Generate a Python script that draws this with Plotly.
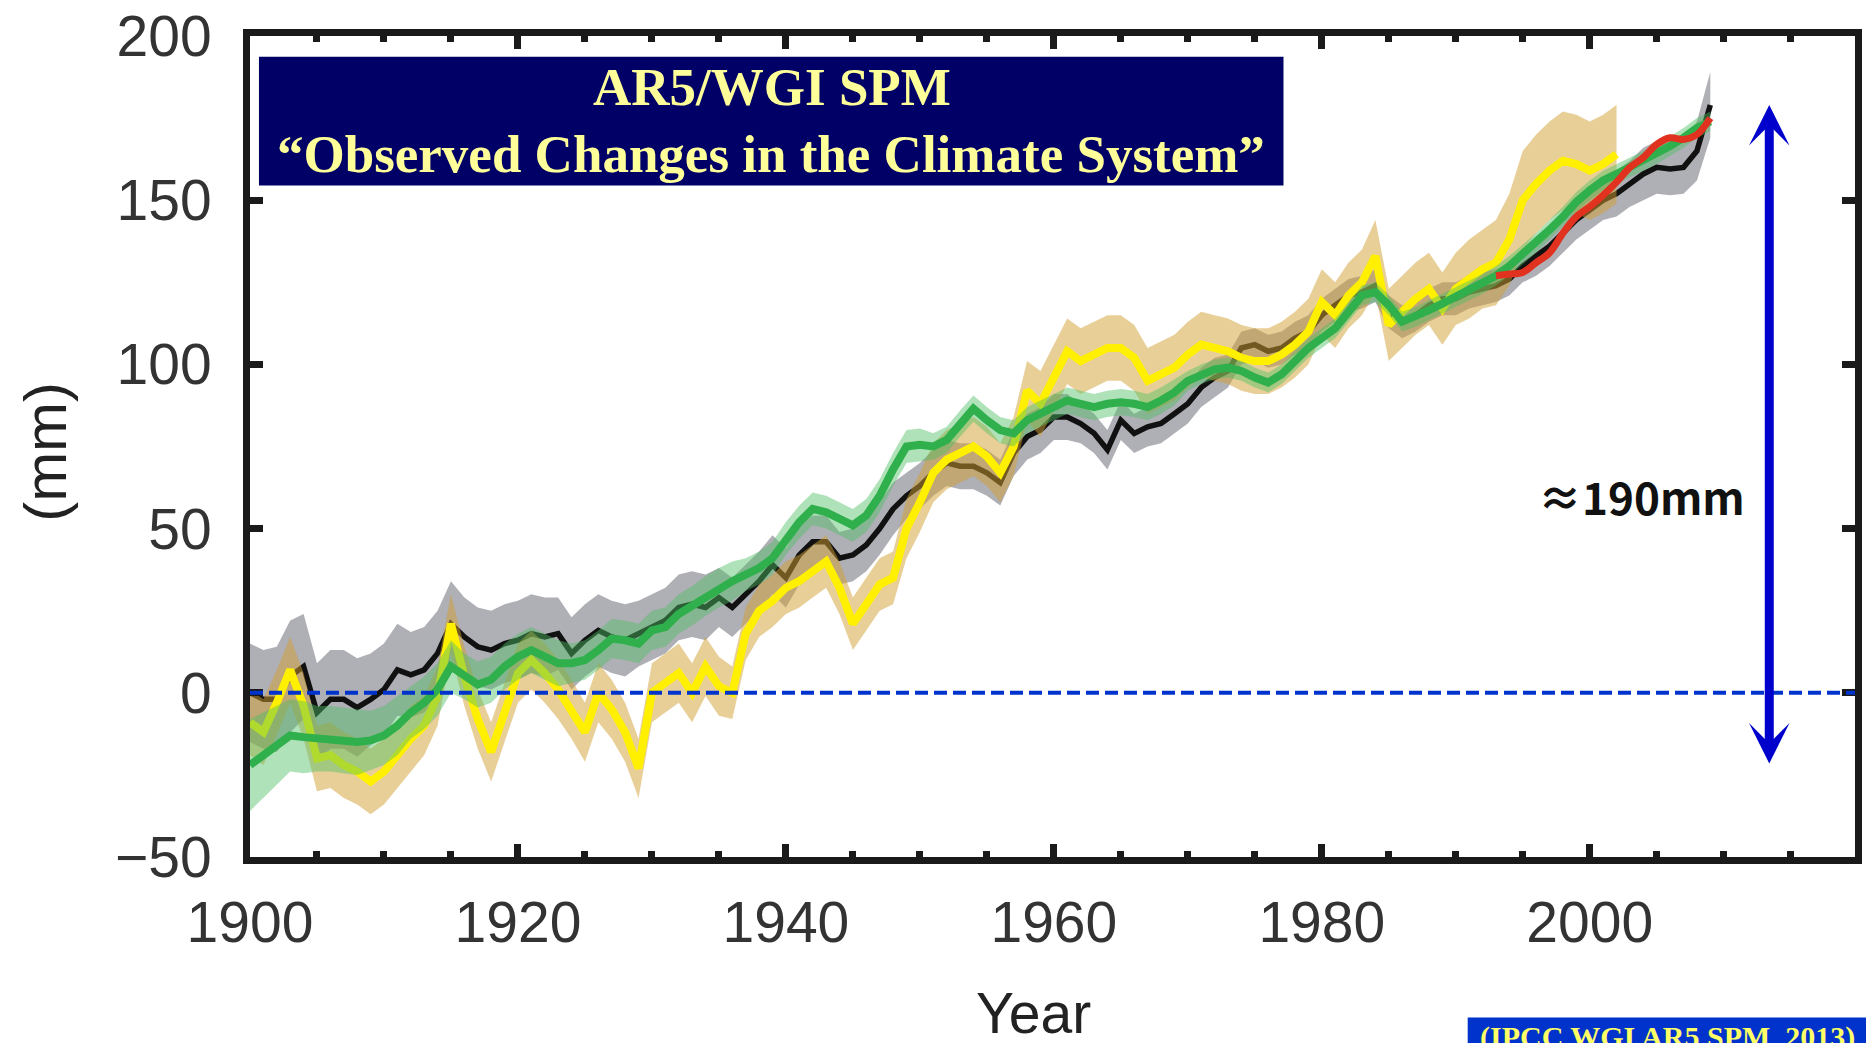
import plotly.graph_objects as go

# ---- Global mean sea level change relative to 1900 (mm) ----
years_black = list(range(1900, 2010))
sea_black = [
    0, -2, -2, 5, 8, -6, -2, -2, -4.5, -2,
    1, 7, 5.5, 7, 12, 21, 17, 14, 13, 15,
    16, 18, 17, 18, 12, 16, 19, 17, 16, 18,
    20, 22, 26, 27, 26, 29, 26, 30, 34, 39,
    35, 42, 46, 46, 41, 42, 45, 50, 56, 60,
    63, 67, 70, 69, 69, 67, 64, 73, 78, 80,
    84, 84, 82, 79, 74, 83, 79, 81, 82, 85,
    88, 93, 96, 98, 105, 106, 104, 105, 108, 110,
    115, 118, 121, 122, 124, 116, 113, 115, 118, 120,
    120, 122, 123, 124, 126, 130, 133, 136, 140, 144,
    147, 150, 152, 155, 158, 160, 159.5, 160, 165, 179,
]
err_black = [
    15, 15, 16, 17, 16, 15, 15, 15, 15, 14,
    14, 14, 13, 13, 13, 13, 12, 12, 12, 12,
    12, 12, 12, 11, 11, 11, 11, 11, 11, 10,
    10, 10, 10, 10, 10, 9, 9, 9, 9, 9,
    9, 9, 8, 8, 8, 8, 8, 8, 8, 7,
    7, 7, 7, 7, 7, 7, 7, 7, 7, 7,
    7, 7, 6, 6, 6, 6, 6, 6, 6, 6,
    6, 6, 6, 5, 5, 5, 5, 5, 5, 5,
    5, 5, 5, 5, 5, 5, 5, 5, 5, 5,
    5, 5, 5, 5, 5, 5, 6, 6, 6, 6,
    6, 6, 7, 7, 8, 8, 8, 8, 9, 10,
]

years_yellow = list(range(1900, 2003))
sea_yellow = [
    -9, -12, -3, 7, -4, -20, -19, -22, -24, -27,
    -24, -19, -14, -10, -1, 21, 5, -8, -18, -6,
    6, 10, 6, 1, -5, -12, 0, -5, -12, -23,
    0, 3, 6, 0, 8, 2, 0, 18, 25, 28,
    32, 34, 37, 40, 32, 21, 27, 33, 35, 50,
    58, 67, 71, 73, 75, 72, 67, 75, 92, 88,
    96, 104, 101, 103, 105, 105, 102, 95, 97, 99,
    103, 106, 105, 104, 102, 101, 101, 103, 106, 110,
    119, 115, 121, 125, 133, 112, 116, 120, 123, 117,
    123, 126, 129, 131, 138, 150, 155, 159, 162, 161,
    159, 161, 164,
]
err_yellow = [
    10, 10, 10, 10, 10, 10, 10, 10, 10, 10,
    10, 10, 10, 9, 9, 9, 9, 9, 9, 9,
    9, 9, 9, 9, 9, 9, 9, 9, 9, 9,
    9, 9, 9, 9, 9, 9, 8, 8, 8, 8,
    8, 8, 8, 8, 8, 8, 8, 8, 8, 9,
    9, 9, 9, 9, 9, 9, 9, 9, 9, 10,
    10, 10, 10, 10, 10, 10, 10, 10, 10, 10,
    10, 10, 10, 10, 10, 10, 10, 10, 10, 10,
    10, 10, 10, 10, 11, 11, 11, 11, 11, 11,
    11, 12, 12, 13, 14, 15, 15, 15, 15, 15,
    15, 15, 15,
]

years_green = list(range(1900, 2010))
sea_green = [
    -22, -19, -16, -13, -13.5, -14, -14, -14.5, -15, -14.5,
    -13, -10, -6, -3, 1, 8, 5, 2.5, 4, 8,
    11, 13, 11, 9, 9, 10, 13, 16.5, 16, 15,
    19, 20, 24, 26.5, 29.5, 32, 34, 36, 38, 41,
    47, 52, 56, 55, 53, 51, 54, 60, 68, 75,
    75.5, 75, 77, 82, 86.5, 83, 80, 79, 83, 85,
    87, 89, 88, 87, 88, 88.5, 88, 87, 89, 91.5,
    95, 97, 98.5, 99, 98, 96, 94.5, 97, 101, 105,
    108, 111, 116, 121, 122, 118, 113, 114.5, 116.5, 118.5,
    120.5, 122.5, 124.5, 127, 130, 133.5, 137, 141, 145, 149.5,
    153, 156, 158, 160, 162, 164, 166.5, 169, 172, 174,
]
err_green = [
    14, 13, 12, 11, 11, 10, 10, 10, 10, 9,
    9, 9, 8, 8, 8, 8, 7, 7, 7, 7,
    7, 7, 7, 7, 6, 6, 6, 6, 6, 6,
    6, 6, 6, 6, 6, 6, 6, 5, 5, 5,
    5, 5, 5, 5, 5, 5, 5, 5, 5, 5,
    5, 4, 4, 4, 4, 4, 4, 4, 4, 4,
    4, 4, 4, 4, 4, 4, 4, 4, 4, 4,
    3, 3, 3, 3, 3, 3, 3, 3, 3, 3,
    3, 3, 3, 3, 3, 3, 3, 3, 3, 3,
    3, 3, 3, 3, 3, 3, 3, 3, 3, 3,
    3, 3, 3, 3, 3, 3, 3, 3, 3, 3,
]

years_red = list(range(1993, 2010))
sea_red = [127, 127.5, 128, 131, 134, 140, 145, 148, 151.5, 155.5,
           160, 163, 167, 169, 168.5, 170, 175]

x_ticks = [1900, 1920, 1940, 1960, 1980, 2000]
y_ticks = [-50, 0, 50, 100, 150, 200]
rise_year = 2013.4
rise_top, rise_bottom = 179, -22   # span marked by the double arrow
rise_label = "≈190mm"

# ---- page geometry (pixels) ----
W, H = 1866, 1043
L, R, T, B = 250, 1862, 28, 857


def px(xp):
    return (xp - L) / (R - L)


def py(yp):
    return (B - yp) / (B - T)


def band(xs, ys, es, fill):
    upper = [v + e for v, e in zip(ys, es)]
    lower = [v - e for v, e in zip(ys, es)]
    return go.Scatter(x=xs + xs[::-1], y=upper + lower[::-1], fill="toself",
                      fillcolor=fill, line=dict(width=0), mode="lines",
                      hoverinfo="skip", showlegend=False)


def curve(xs, ys, color, width, shape="linear"):
    return go.Scatter(x=xs, y=ys, mode="lines", showlegend=False,
                      line=dict(color=color, width=width, shape=shape))


def label(xp, yp, text, font, **kw):
    fig.add_annotation(xref="paper", yref="paper", x=px(xp), y=py(yp),
                       xanchor=kw.pop("xanchor", "center"),
                       yanchor=kw.pop("yanchor", "middle"),
                       text=text, showarrow=False, font=font, **kw)


fig = go.Figure()
fig.add_trace(band(years_black, sea_black, err_black, "rgba(110,110,122,0.55)"))
fig.add_trace(curve(years_black, sea_black, "#111111", 5.5))
fig.add_trace(band(years_yellow, sea_yellow, err_yellow, "rgba(210,160,50,0.5)"))
fig.add_trace(curve(years_yellow, sea_yellow, "#fff000", 8))
fig.add_trace(band(years_green, sea_green, err_green, "rgba(80,190,100,0.45)"))
fig.add_trace(curve(years_green, sea_green, "#30b04c", 8))
fig.add_trace(curve(years_red, sea_red, "#e0321e", 7, shape="spline"))

sans = "Liberation Sans, Arial, sans-serif"
serif = "Liberation Serif, Times New Roman, serif"
tick_font = dict(family=sans, size=57, color="#333333")
axis_common = dict(showline=True, linewidth=7, linecolor="#1a1a1a", mirror="ticks",
                   ticks="inside", tickwidth=7, tickcolor="#1a1a1a",
                   showgrid=False, zeroline=False, tickfont=tick_font,
                   ticklabeloverflow="allow")

fig.update_xaxes(range=[1900, 2019.8], tickmode="array", tickvals=x_ticks,
                 ticklen=13, ticklabelstandoff=10,
                 minor=dict(tickmode="linear", tick0=1900, dtick=5, ticks="inside",
                            ticklen=6, tickwidth=7, tickcolor="#1a1a1a"),
                 **axis_common)
fig.update_yaxes(range=[-50, 200], tickmode="array", tickvals=y_ticks,
                 ticklen=13, ticklabelstandoff=20, **axis_common)

# zero reference line
fig.add_shape(type="line", xref="paper", yref="y", x0=0, x1=1, y0=0, y1=0,
              line=dict(color="#0033cc", width=4, dash="13px,6px"), layer="above")

# title panel
fig.add_shape(type="rect", xref="paper", yref="paper",
              x0=px(259), x1=px(1288), y0=py(179), y1=py(49),
              fillcolor="#000066", line=dict(width=0), layer="above")
title_font = dict(family=serif, size=53, color="#ffff99")
label(774, 80, "<b>AR5/WGI SPM</b>", title_font)
label(773, 147, "<b>“Observed Changes in the Climate System”</b>", title_font)

# source tag
fig.add_shape(type="rect", xref="paper", yref="paper",
              x0=px(1473), x1=px(1880), y0=py(1060), y1=py(1019),
              fillcolor="#0033cc", line=dict(width=0), layer="above")
label(1483, 1039, "<b>(IPCC WGI AR5 SPM, 2013)</b>",
      dict(family=serif, size=30, color="#ffff66"), xanchor="left")

# rise arrow and label
fig.add_annotation(x=rise_year, y=rise_top, ax=rise_year, ay=rise_bottom,
                   xref="x", yref="y", axref="x", ayref="y", text="",
                   showarrow=True, arrowside="end+start", arrowhead=3,
                   startarrowhead=3, arrowsize=0.75, startarrowsize=0.75,
                   arrowwidth=9, arrowcolor="#0000cc")
label(1648, 492, "<b>" + rise_label + "</b>",
      dict(family="Noto Sans CJK TC, Noto Sans, sans-serif", size=44, color="#111111"))

# axis titles
label(1037, 1015, "Year", dict(family=sans, size=57, color="#222222"))
label(45, 448, "(mm)", dict(family=sans, size=60, color="#222222"), textangle=-90)

fig.update_layout(width=W, height=H, margin=dict(l=L, r=W - R, t=T, b=H - B),
                  paper_bgcolor="white", plot_bgcolor="white", showlegend=False)

fig.write_html("out.html")
